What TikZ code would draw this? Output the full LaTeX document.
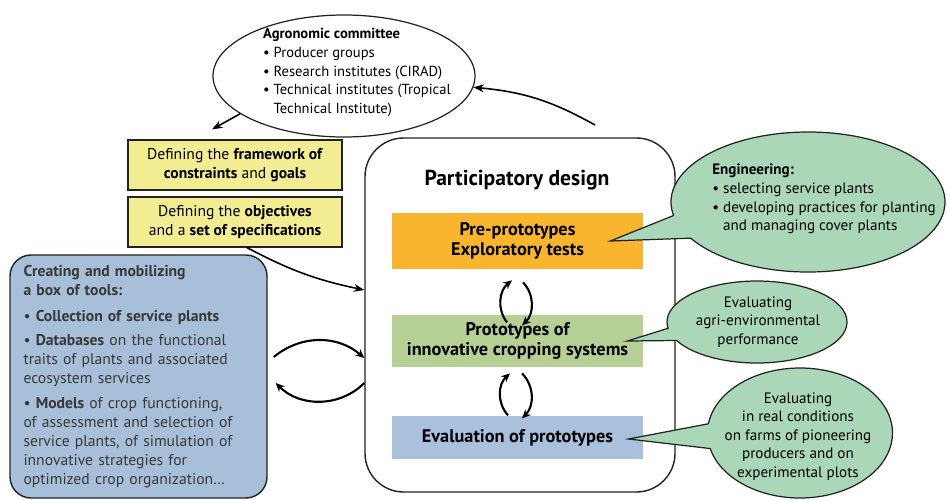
\documentclass[tikz,border=0pt]{standalone}
\usepackage{fontspec}
\setmainfont{PT Sans}
\usetikzlibrary{
  positioning,
  shapes.geometric,
  shapes.callouts,
  arrows.meta,
  calc,
}
\definecolor{border}{HTML}{222222}
\definecolor{fillYel}{HTML}{F2EC93}
\definecolor{fillTools}{HTML}{A7BFD9}
\definecolor{fillPre}{HTML}{F9B52E}
\definecolor{fillProto}{HTML}{B5CF94}
\definecolor{fillEval}{HTML}{A9C1DC}
\definecolor{fillMint}{HTML}{AAD7B8}
\definecolor{textSub}{HTML}{383838}
\tikzset{
  yelbox/.style={
    rectangle, draw=border, fill=fillYel, minimum width=4.28cm,
    minimum height=1cm, align=center, inner sep=2pt, line width=0.7pt,
    font=\fontsize{8.9}{10.4}\selectfont,
  },
  toolbox/.style={
    rectangle, rounded corners=12pt, draw=border, fill=fillTools,
    minimum width=5.14cm, minimum height=4.86cm, line width=0.8pt,
    align=left, text width=4.6cm, text=textSub,
    font=\fontsize{8.9}{10.8}\selectfont,
  },
  designbox/.style={
    rectangle, rounded corners=22pt, draw=border, line width=0.8pt,
    minimum width=6.2cm, minimum height=7.08cm,
  },
  stagebox/.style={
    rectangle, minimum width=5.02cm, align=center, inner sep=0pt,
    font=\fontsize{10.4}{11.6}\selectfont\bfseries,
  },
  bubble/.style={ellipse, draw=border, line width=0.7pt, inner sep=0pt},
  callbox/.style={
    ellipse callout, draw=border, fill=fillMint, line width=0.7pt, inner sep=0pt,
  },
  txt/.style={align=left, inner sep=0pt, font=\fontsize{8.6}{10.6}\selectfont},
  arrow/.style={-{Stealth[length=6pt,width=4.5pt]}, line width=0.9pt},
  cycarrow/.style={-{Stealth[length=5pt,width=4.5pt]}, line width=1.2pt},
}

\begin{document}
\begin{tikzpicture}

  \useasboundingbox (0,0) rectangle (18.94,9.98);

  % Committee
  \node[bubble, minimum width=5.24cm, minimum height=2.44cm] (agro) at (6.88, 8.46) {};
  \node[txt, font=\fontsize{8.3}{10.6}\selectfont] (agrotxt) at (7.14, 8.53) {\textbf{Agronomic committee}\\\textbullet\ Producer groups\\\textbullet\ Research institutes (CIRAD)\\\textbullet\ Technical institutes (Tropical\\\phantom{\textbullet\ }Technical Institute)};

  % Framework boxes
  \node[yelbox] (frame) at (4.7, 6.68) {Defining the \textbf{framework of}\\\textbf{constraints} and \textbf{goals}};
  \node[yelbox] (spec) at (4.7, 5.54) {Defining the \textbf{objectives}\\and a \textbf{set of specifications}};

  % Toolbox
  \node[toolbox] (tools) at (2.77, 2.45) {\textbf{Creating and mobilizing}\\\textbf{a box of tools:}\\[4pt]
    \textbullet\ \textbf{Collection of service plants}\\[3pt]
    \textbullet\ \textbf{Databases} on the functional\\traits of plants and associated\\ecosystem services\\[3pt]
    \textbullet\ \textbf{Models} of crop functioning,\\of assessment and selection of\\service plants, of simulation of\\innovative strategies for\\optimized crop organization…};

  % Participatory design
  \node[designbox] (design) at (10.4, 3.68) {};
  \node[font=\fontsize{12.3}{14}\selectfont\bfseries] (title) at (10.34, 6.38) {Participatory design};
  \node[stagebox, fill=fillPre, minimum height=1.12cm] (pre) at (10.35, 5.16) {Pre-prototypes\\Exploratory tests};
  \node[stagebox, fill=fillProto, minimum height=1.04cm] (proto) at (10.35, 3.16) {Prototypes of\\innovative cropping systems};
  \node[stagebox, fill=fillEval, minimum height=0.86cm] (eval) at (10.35, 1.23) {Evaluation of prototypes};

  \draw[cycarrow] ([xshift=-0.21cm,yshift=-1.06cm]pre.south) to[bend left=45] ([xshift=-0.11cm,yshift=-0.22cm]pre.south);
  \draw[cycarrow] ([xshift=0.11cm,yshift=-0.26cm]pre.south) to[bend left=45] ([xshift=0.09cm,yshift=-1.12cm]pre.south);
  \draw[cycarrow] ([xshift=-0.19cm,yshift=-0.96cm]proto.south) to[bend left=45] ([xshift=-0.15cm,yshift=-0.12cm]proto.south);
  \draw[cycarrow] ([xshift=0.09cm,yshift=-0.12cm]proto.south) to[bend left=45] ([xshift=0.09cm,yshift=-1.02cm]proto.south);

  % Callouts
  \coordinate (engtip) at ([xshift=-0.66cm]pre.east);
  \coordinate (agritip) at ([xshift=-0.32cm]proto.east);
  \coordinate (realtip) at ([xshift=-0.3cm,yshift=-0.03cm]eval.east);

  \node[callbox, minimum width=5.48cm, minimum height=2.8cm, callout pointer arc=20, callout absolute pointer=(engtip)] (eng) at (16.16, 5.94) {};
  \node[callbox, minimum width=3.6cm, minimum height=1.64cm, callout pointer arc=18, callout absolute pointer=(agritip)] (agri) at (15.14, 3.54) {};
  \node[callbox, minimum width=3.7cm, minimum height=2.6cm, callout pointer arc=22, callout absolute pointer=(realtip)] (real) at (16.0, 1.32) {};

  \node[txt] (engtxt) at (16.48, 6.0) {\textbf{Engineering:}\\\textbullet\ selecting service plants\\\textbullet\ developing practices for planting\\\phantom{\textbullet\ }and managing cover plants};
  \node[txt, align=center] (agritxt) at (15.16, 3.54) {Evaluating\\agri-environmental\\performance};
  \node[txt, align=center] (realtxt) at (15.96, 1.25) {Evaluating\\in real conditions\\on farms of pioneering\\producers and on\\experimental plots};

  % Links
  \coordinate (feedback) at (11.9, 7.48);
  \draw[arrow] (feedback) to[bend right=12] (agro.355);
  \draw[arrow] (agro.200) -- ([xshift=-0.46cm,yshift=0.2cm]frame.north);
  \draw[arrow] ([xshift=0.24cm]spec.south) to[bend right=8] ([yshift=0.5cm]design.west);
  \draw[cycarrow] ([xshift=0.12cm,yshift=0.39cm]tools.east) to[bend left=40] ([yshift=-0.86cm]design.west);
  \draw[cycarrow] ([yshift=-1.36cm]design.west) to[bend left=45] ([xshift=0.16cm,yshift=-0.13cm]tools.east);

\end{tikzpicture}
\end{document}
